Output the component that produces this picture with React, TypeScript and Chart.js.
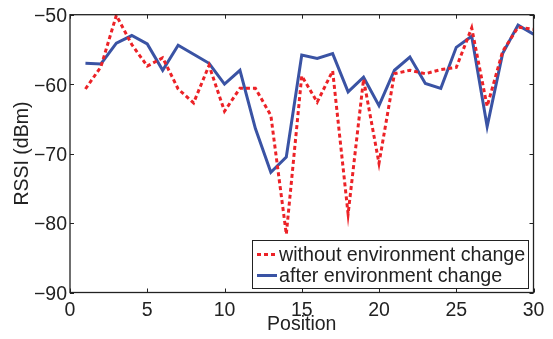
import React, { useEffect, useRef } from "react";
import { Chart, registerables } from "chart.js";

Chart.register(...registerables);

const positions = Array.from({ length: 30 }, (_, i) => i + 1);
const withoutChange = [
  -60.7, -57.5, -50.1, -54.3, -57.4, -56.2, -60.7, -62.7, -57.3, -63.9,
  -60.6, -60.6, -64.5, -81.6, -58.8, -62.6, -58.1, -78.7, -59.3, -71.4,
  -58.5, -58.0, -58.5, -57.9, -57.6, -51.9, -63.2, -55.3, -51.8, -52.1,
];
const afterChange = [
  -57.0, -57.1, -54.1, -53.0, -54.2, -58.0, -54.4, -55.7, -57.0, -60.0,
  -58.0, -66.4, -72.7, -70.5, -55.8, -56.3, -55.6, -61.1, -59.0, -63.1,
  -58.0, -56.1, -59.9, -60.6, -54.7, -53.1, -66.1, -55.6, -51.5, -52.8,
];
const xTicks = [0, 5, 10, 15, 20, 25, 30];
const yTicks = [-90, -80, -70, -60, -50];
const seriesLabels = ["without environment change", "after environment change"];

const RED = "#ec2227";
const BLUE = "#3a53a4";
const INK = "#222222";
const FONT = "'Liberation Sans', Arial, Helvetica, sans-serif";

const framePlugin = {
  id: "frameAndLegend",
  afterDraw(chart: any) {
    const { ctx, chartArea: a, scales } = chart;
    const xs = scales.x;
    const ys = scales.y;
    ctx.save();
    ctx.strokeStyle = INK;
    ctx.lineWidth = 1.3;
    ctx.strokeRect(a.left, a.top, a.right - a.left, a.bottom - a.top);
    ctx.lineWidth = 1;
    const tl = 4;
    ctx.beginPath();
    for (const v of xTicks) {
      const px = Math.round(xs.getPixelForValue(v)) + 0.5;
      ctx.moveTo(px, a.bottom);
      ctx.lineTo(px, a.bottom - tl);
      ctx.moveTo(px, a.top);
      ctx.lineTo(px, a.top + tl);
    }
    for (const v of yTicks) {
      const py = Math.round(ys.getPixelForValue(v)) + 0.5;
      ctx.moveTo(a.left, py);
      ctx.lineTo(a.left + tl, py);
      ctx.moveTo(a.right, py);
      ctx.lineTo(a.right - tl, py);
    }
    ctx.stroke();

    // legend box inside plot, bottom-right
    const bx = 252.5, by = 240.5, bw = 276, bh = 48;
    ctx.fillStyle = "#ffffff";
    ctx.fillRect(bx, by, bw, bh);
    ctx.strokeStyle = INK;
    ctx.lineWidth = 1;
    ctx.strokeRect(bx, by, bw, bh);
    const rows = [
      { label: seriesLabels[0], color: RED, dash: [4, 3], y: 254.5 },
      { label: seriesLabels[1], color: BLUE, dash: [], y: 275.5 },
    ];
    ctx.font = `19.7px ${FONT}`;
    ctx.textBaseline = "middle";
    ctx.textAlign = "left";
    for (const r of rows) {
      ctx.beginPath();
      ctx.strokeStyle = r.color;
      ctx.lineWidth = 3;
      ctx.setLineDash(r.dash);
      ctx.moveTo(257, r.y);
      ctx.lineTo(277, r.y);
      ctx.stroke();
      ctx.setLineDash([]);
      ctx.fillStyle = INK;
      ctx.fillText(r.label, 279, r.y + 1);
    }
    ctx.restore();
  },
};

export default function App() {
  const ref = useRef<HTMLCanvasElement | null>(null);
  useEffect(() => {
    document.body.style.margin = "0";
    const canvas = ref.current;
    if (!canvas) return;
    const chart = new Chart(canvas, {
      type: "line",
      data: {
        labels: positions,
        datasets: [
          {
            label: seriesLabels[0],
            data: positions.map((p, i) => ({ x: p, y: withoutChange[i] })),
            borderColor: RED,
            borderWidth: 3,
            borderDash: [4, 3],
            pointRadius: 0,
            tension: 0,
            fill: false,
          },
          {
            label: seriesLabels[1],
            data: positions.map((p, i) => ({ x: p, y: afterChange[i] })),
            borderColor: BLUE,
            borderWidth: 3,
            pointRadius: 0,
            tension: 0,
            fill: false,
          },
        ],
      },
      options: {
        animation: false,
        responsive: false,
        maintainAspectRatio: false,
        devicePixelRatio: 1,
        layout: { padding: { top: 9.5, right: 19.5, bottom: 0, left: 0 } },
        plugins: { legend: { display: false }, tooltip: { enabled: false } },
        scales: {
          x: {
            type: "linear",
            min: 0,
            max: 30,
            afterBuildTicks: (s: any) => {
              s.ticks = xTicks.map((v) => ({ value: v }));
            },
            afterFit: (s: any) => {
              s.height = 46.5;
            },
            grid: { display: false, drawTicks: false },
            border: { display: false },
            ticks: {
              color: INK,
              font: { family: FONT, size: 19.5 },
              padding: 6,
              maxRotation: 0,
              autoSkip: false,
            },
            title: {
              display: true,
              text: "Position",
              color: INK,
              font: { family: FONT, size: 19.5 },
              padding: { top: 0, bottom: 3 },
            },
          },
          y: {
            type: "linear",
            min: -90,
            max: -50,
            afterBuildTicks: (s: any) => {
              s.ticks = yTicks.map((v) => ({ value: v }));
            },
            afterFit: (s: any) => {
              s.width = 70;
            },
            grid: { display: false, drawTicks: false },
            border: { display: false },
            ticks: {
              color: INK,
              font: { family: FONT, size: 19.5 },
              padding: 3,
              labelOffset: 2,
              callback: (v: any) => String(v).replace("-", "\u2212"),
            },
            title: {
              display: true,
              text: "RSSI (dBm)",
              color: INK,
              font: { family: FONT, size: 19.5 },
              padding: { top: 11, bottom: 0 },
            },
          },
        },
      },
      plugins: [framePlugin],
    });
    return () => chart.destroy();
  }, []);
  return (
    <div style={{ width: 553, height: 339 }}>
      <canvas ref={ref} width={553} height={339} style={{ display: "block" }} />
    </div>
  );
}
